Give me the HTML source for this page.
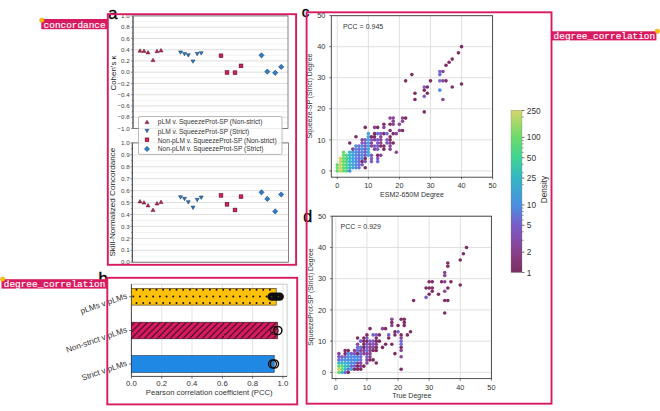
<!DOCTYPE html><html><head><meta charset="utf-8"><style>html,body{margin:0;padding:0;background:#fff;width:660px;height:411px;overflow:hidden}svg{display:block}text{font-family:"Liberation Sans",sans-serif}</style></head><body>
<svg width="660" height="411" viewBox="0 0 660 411">
<defs>
<linearGradient id="cmap" x1="0" y1="1" x2="0" y2="0"><stop offset="0" stop-color="#7a2e60"/><stop offset="0.125" stop-color="#8a3f8a"/><stop offset="0.29" stop-color="#7a5cc8"/><stop offset="0.417" stop-color="#4a90e0"/><stop offset="0.583" stop-color="#33b6c4"/><stop offset="0.708" stop-color="#3fd394"/><stop offset="0.833" stop-color="#6ddc6c"/><stop offset="1" stop-color="#d4d46b"/></linearGradient>
<pattern id="hatch" patternUnits="userSpaceOnUse" x="134.8" y="322.2" width="6.44" height="6.44"><rect width="6.44" height="6.44" fill="#d81b60"/><path d="M-1.5,1.5 l3,-3 M0,6.44 l6.44,-6.44 M4.94,7.94 l3,-3" stroke="#2a0a18" stroke-width="1.05"/></pattern>
<pattern id="dots" patternUnits="userSpaceOnUse" x="133" y="286.4" width="6.67" height="13.3"><rect width="6.67" height="13.3" fill="#ffc107"/><circle cx="3.3" cy="3.3" r="0.95" fill="#111"/><circle cx="0" cy="9.95" r="0.95" fill="#111"/><circle cx="6.67" cy="9.95" r="0.95" fill="#111"/></pattern>
</defs>
<line x1="133.0" y1="128.45" x2="288.0" y2="128.45" stroke="#d6d6d6" stroke-width="0.8"/>
<line x1="133.0" y1="122.82" x2="288.0" y2="122.82" stroke="#efefef" stroke-width="0.8"/>
<line x1="133.0" y1="117.20" x2="288.0" y2="117.20" stroke="#d6d6d6" stroke-width="0.8"/>
<line x1="133.0" y1="111.57" x2="288.0" y2="111.57" stroke="#efefef" stroke-width="0.8"/>
<line x1="133.0" y1="105.95" x2="288.0" y2="105.95" stroke="#d6d6d6" stroke-width="0.8"/>
<line x1="133.0" y1="100.32" x2="288.0" y2="100.32" stroke="#efefef" stroke-width="0.8"/>
<line x1="133.0" y1="94.70" x2="288.0" y2="94.70" stroke="#d6d6d6" stroke-width="0.8"/>
<line x1="133.0" y1="89.07" x2="288.0" y2="89.07" stroke="#efefef" stroke-width="0.8"/>
<line x1="133.0" y1="83.45" x2="288.0" y2="83.45" stroke="#d6d6d6" stroke-width="0.8"/>
<line x1="133.0" y1="77.82" x2="288.0" y2="77.82" stroke="#efefef" stroke-width="0.8"/>
<line x1="133.0" y1="72.20" x2="288.0" y2="72.20" stroke="#d6d6d6" stroke-width="0.8"/>
<line x1="133.0" y1="66.57" x2="288.0" y2="66.57" stroke="#efefef" stroke-width="0.8"/>
<line x1="133.0" y1="60.95" x2="288.0" y2="60.95" stroke="#d6d6d6" stroke-width="0.8"/>
<line x1="133.0" y1="55.32" x2="288.0" y2="55.32" stroke="#efefef" stroke-width="0.8"/>
<line x1="133.0" y1="49.70" x2="288.0" y2="49.70" stroke="#d6d6d6" stroke-width="0.8"/>
<line x1="133.0" y1="44.08" x2="288.0" y2="44.08" stroke="#efefef" stroke-width="0.8"/>
<line x1="133.0" y1="38.45" x2="288.0" y2="38.45" stroke="#d6d6d6" stroke-width="0.8"/>
<line x1="133.0" y1="32.82" x2="288.0" y2="32.82" stroke="#efefef" stroke-width="0.8"/>
<line x1="133.0" y1="27.20" x2="288.0" y2="27.20" stroke="#d6d6d6" stroke-width="0.8"/>
<line x1="133.0" y1="21.57" x2="288.0" y2="21.57" stroke="#efefef" stroke-width="0.8"/>
<line x1="133.0" y1="15.95" x2="288.0" y2="15.95" stroke="#d6d6d6" stroke-width="0.8"/>
<rect x="133.0" y="15.9" width="155.0" height="112.5" fill="none" stroke="#666" stroke-width="0.8"/>
<line x1="133.0" y1="15.9" x2="133.0" y2="128.4" stroke="#444" stroke-width="0.9"/>
<line x1="131.0" y1="128.45" x2="133.0" y2="128.45" stroke="#555" stroke-width="0.6"/>
<text x="129.7" y="130.65" font-size="6.2" fill="#444" text-anchor="end">−1.0</text>
<line x1="131.8" y1="122.82" x2="133.0" y2="122.82" stroke="#555" stroke-width="0.6"/>
<line x1="131.0" y1="117.20" x2="133.0" y2="117.20" stroke="#555" stroke-width="0.6"/>
<text x="129.7" y="119.40" font-size="6.2" fill="#444" text-anchor="end">−0.8</text>
<line x1="131.8" y1="111.57" x2="133.0" y2="111.57" stroke="#555" stroke-width="0.6"/>
<line x1="131.0" y1="105.95" x2="133.0" y2="105.95" stroke="#555" stroke-width="0.6"/>
<text x="129.7" y="108.15" font-size="6.2" fill="#444" text-anchor="end">−0.6</text>
<line x1="131.8" y1="100.32" x2="133.0" y2="100.32" stroke="#555" stroke-width="0.6"/>
<line x1="131.0" y1="94.70" x2="133.0" y2="94.70" stroke="#555" stroke-width="0.6"/>
<text x="129.7" y="96.90" font-size="6.2" fill="#444" text-anchor="end">−0.4</text>
<line x1="131.8" y1="89.07" x2="133.0" y2="89.07" stroke="#555" stroke-width="0.6"/>
<line x1="131.0" y1="83.45" x2="133.0" y2="83.45" stroke="#555" stroke-width="0.6"/>
<text x="129.7" y="85.65" font-size="6.2" fill="#444" text-anchor="end">−0.2</text>
<line x1="131.8" y1="77.82" x2="133.0" y2="77.82" stroke="#555" stroke-width="0.6"/>
<line x1="131.0" y1="72.20" x2="133.0" y2="72.20" stroke="#555" stroke-width="0.6"/>
<text x="129.7" y="74.40" font-size="6.2" fill="#444" text-anchor="end">0.0</text>
<line x1="131.8" y1="66.57" x2="133.0" y2="66.57" stroke="#555" stroke-width="0.6"/>
<line x1="131.0" y1="60.95" x2="133.0" y2="60.95" stroke="#555" stroke-width="0.6"/>
<text x="129.7" y="63.15" font-size="6.2" fill="#444" text-anchor="end">0.2</text>
<line x1="131.8" y1="55.32" x2="133.0" y2="55.32" stroke="#555" stroke-width="0.6"/>
<line x1="131.0" y1="49.70" x2="133.0" y2="49.70" stroke="#555" stroke-width="0.6"/>
<text x="129.7" y="51.90" font-size="6.2" fill="#444" text-anchor="end">0.4</text>
<line x1="131.8" y1="44.08" x2="133.0" y2="44.08" stroke="#555" stroke-width="0.6"/>
<line x1="131.0" y1="38.45" x2="133.0" y2="38.45" stroke="#555" stroke-width="0.6"/>
<text x="129.7" y="40.65" font-size="6.2" fill="#444" text-anchor="end">0.6</text>
<line x1="131.8" y1="32.82" x2="133.0" y2="32.82" stroke="#555" stroke-width="0.6"/>
<line x1="131.0" y1="27.20" x2="133.0" y2="27.20" stroke="#555" stroke-width="0.6"/>
<text x="129.7" y="29.40" font-size="6.2" fill="#444" text-anchor="end">0.8</text>
<line x1="131.8" y1="21.57" x2="133.0" y2="21.57" stroke="#555" stroke-width="0.6"/>
<line x1="131.0" y1="15.95" x2="133.0" y2="15.95" stroke="#555" stroke-width="0.6"/>
<text x="129.7" y="18.15" font-size="6.2" fill="#444" text-anchor="end">1.0</text>
<text transform="translate(116,73) rotate(-90)" font-size="7.9" fill="#222" text-anchor="middle">Cohen’s κ</text>
<line x1="132.3" y1="262.20" x2="288.4" y2="262.20" stroke="#d6d6d6" stroke-width="0.8"/>
<line x1="132.3" y1="256.24" x2="288.4" y2="256.24" stroke="#efefef" stroke-width="0.8"/>
<line x1="132.3" y1="250.27" x2="288.4" y2="250.27" stroke="#d6d6d6" stroke-width="0.8"/>
<line x1="132.3" y1="244.30" x2="288.4" y2="244.30" stroke="#efefef" stroke-width="0.8"/>
<line x1="132.3" y1="238.34" x2="288.4" y2="238.34" stroke="#d6d6d6" stroke-width="0.8"/>
<line x1="132.3" y1="232.38" x2="288.4" y2="232.38" stroke="#efefef" stroke-width="0.8"/>
<line x1="132.3" y1="226.41" x2="288.4" y2="226.41" stroke="#d6d6d6" stroke-width="0.8"/>
<line x1="132.3" y1="220.44" x2="288.4" y2="220.44" stroke="#efefef" stroke-width="0.8"/>
<line x1="132.3" y1="214.48" x2="288.4" y2="214.48" stroke="#d6d6d6" stroke-width="0.8"/>
<line x1="132.3" y1="208.51" x2="288.4" y2="208.51" stroke="#efefef" stroke-width="0.8"/>
<line x1="132.3" y1="202.55" x2="288.4" y2="202.55" stroke="#d6d6d6" stroke-width="0.8"/>
<line x1="132.3" y1="196.58" x2="288.4" y2="196.58" stroke="#efefef" stroke-width="0.8"/>
<line x1="132.3" y1="190.62" x2="288.4" y2="190.62" stroke="#d6d6d6" stroke-width="0.8"/>
<line x1="132.3" y1="184.66" x2="288.4" y2="184.66" stroke="#efefef" stroke-width="0.8"/>
<line x1="132.3" y1="178.69" x2="288.4" y2="178.69" stroke="#d6d6d6" stroke-width="0.8"/>
<line x1="132.3" y1="172.72" x2="288.4" y2="172.72" stroke="#efefef" stroke-width="0.8"/>
<line x1="132.3" y1="166.76" x2="288.4" y2="166.76" stroke="#d6d6d6" stroke-width="0.8"/>
<line x1="132.3" y1="160.79" x2="288.4" y2="160.79" stroke="#efefef" stroke-width="0.8"/>
<line x1="132.3" y1="154.83" x2="288.4" y2="154.83" stroke="#d6d6d6" stroke-width="0.8"/>
<line x1="132.3" y1="148.87" x2="288.4" y2="148.87" stroke="#efefef" stroke-width="0.8"/>
<line x1="132.3" y1="142.90" x2="288.4" y2="142.90" stroke="#d6d6d6" stroke-width="0.8"/>
<rect x="132.3" y="142.9" width="156.1" height="119.3" fill="none" stroke="#666" stroke-width="0.8"/>
<line x1="132.3" y1="142.9" x2="132.3" y2="262.2" stroke="#444" stroke-width="0.9"/>
<line x1="130.3" y1="262.20" x2="132.3" y2="262.20" stroke="#555" stroke-width="0.6"/>
<text x="129.7" y="264.40" font-size="6.2" fill="#444" text-anchor="end">0.0</text>
<line x1="131.1" y1="256.24" x2="132.3" y2="256.24" stroke="#555" stroke-width="0.6"/>
<line x1="130.3" y1="250.27" x2="132.3" y2="250.27" stroke="#555" stroke-width="0.6"/>
<text x="129.7" y="252.47" font-size="6.2" fill="#444" text-anchor="end">0.1</text>
<line x1="131.1" y1="244.30" x2="132.3" y2="244.30" stroke="#555" stroke-width="0.6"/>
<line x1="130.3" y1="238.34" x2="132.3" y2="238.34" stroke="#555" stroke-width="0.6"/>
<text x="129.7" y="240.54" font-size="6.2" fill="#444" text-anchor="end">0.2</text>
<line x1="131.1" y1="232.38" x2="132.3" y2="232.38" stroke="#555" stroke-width="0.6"/>
<line x1="130.3" y1="226.41" x2="132.3" y2="226.41" stroke="#555" stroke-width="0.6"/>
<text x="129.7" y="228.61" font-size="6.2" fill="#444" text-anchor="end">0.3</text>
<line x1="131.1" y1="220.44" x2="132.3" y2="220.44" stroke="#555" stroke-width="0.6"/>
<line x1="130.3" y1="214.48" x2="132.3" y2="214.48" stroke="#555" stroke-width="0.6"/>
<text x="129.7" y="216.68" font-size="6.2" fill="#444" text-anchor="end">0.4</text>
<line x1="131.1" y1="208.51" x2="132.3" y2="208.51" stroke="#555" stroke-width="0.6"/>
<line x1="130.3" y1="202.55" x2="132.3" y2="202.55" stroke="#555" stroke-width="0.6"/>
<text x="129.7" y="204.75" font-size="6.2" fill="#444" text-anchor="end">0.5</text>
<line x1="131.1" y1="196.58" x2="132.3" y2="196.58" stroke="#555" stroke-width="0.6"/>
<line x1="130.3" y1="190.62" x2="132.3" y2="190.62" stroke="#555" stroke-width="0.6"/>
<text x="129.7" y="192.82" font-size="6.2" fill="#444" text-anchor="end">0.6</text>
<line x1="131.1" y1="184.66" x2="132.3" y2="184.66" stroke="#555" stroke-width="0.6"/>
<line x1="130.3" y1="178.69" x2="132.3" y2="178.69" stroke="#555" stroke-width="0.6"/>
<text x="129.7" y="180.89" font-size="6.2" fill="#444" text-anchor="end">0.7</text>
<line x1="131.1" y1="172.72" x2="132.3" y2="172.72" stroke="#555" stroke-width="0.6"/>
<line x1="130.3" y1="166.76" x2="132.3" y2="166.76" stroke="#555" stroke-width="0.6"/>
<text x="129.7" y="168.96" font-size="6.2" fill="#444" text-anchor="end">0.8</text>
<line x1="131.1" y1="160.79" x2="132.3" y2="160.79" stroke="#555" stroke-width="0.6"/>
<line x1="130.3" y1="154.83" x2="132.3" y2="154.83" stroke="#555" stroke-width="0.6"/>
<text x="129.7" y="157.03" font-size="6.2" fill="#444" text-anchor="end">0.9</text>
<line x1="131.1" y1="148.87" x2="132.3" y2="148.87" stroke="#555" stroke-width="0.6"/>
<line x1="130.3" y1="142.90" x2="132.3" y2="142.90" stroke="#555" stroke-width="0.6"/>
<text x="129.7" y="145.10" font-size="6.2" fill="#444" text-anchor="end">1.0</text>
<text transform="translate(115.2,202.2) rotate(-90)" font-size="8.1" fill="#222" text-anchor="middle">Skill-Normalized Concordance</text>
<path d="M140.00,48.80 L142.00,52.20 L138.00,52.20 Z" fill="#d21f55" stroke="#3a1020" stroke-width="0.5"/>
<path d="M144.00,49.00 L146.00,52.40 L142.00,52.40 Z" fill="#d21f55" stroke="#3a1020" stroke-width="0.5"/>
<path d="M148.00,50.50 L150.00,53.90 L146.00,53.90 Z" fill="#d21f55" stroke="#3a1020" stroke-width="0.5"/>
<path d="M153.00,58.20 L155.00,61.60 L151.00,61.60 Z" fill="#d21f55" stroke="#3a1020" stroke-width="0.5"/>
<path d="M157.00,49.30 L159.00,52.70 L155.00,52.70 Z" fill="#d21f55" stroke="#3a1020" stroke-width="0.5"/>
<path d="M161.00,48.50 L163.00,51.90 L159.00,51.90 Z" fill="#d21f55" stroke="#3a1020" stroke-width="0.5"/>
<path d="M180.50,54.30 L182.50,50.90 L178.50,50.90 Z" fill="#2a7fd4" stroke="#102a40" stroke-width="0.5"/>
<path d="M184.50,55.80 L186.50,52.40 L182.50,52.40 Z" fill="#2a7fd4" stroke="#102a40" stroke-width="0.5"/>
<path d="M188.30,57.10 L190.30,53.70 L186.30,53.70 Z" fill="#2a7fd4" stroke="#102a40" stroke-width="0.5"/>
<path d="M193.00,63.30 L195.00,59.90 L191.00,59.90 Z" fill="#2a7fd4" stroke="#102a40" stroke-width="0.5"/>
<path d="M197.20,55.80 L199.20,52.40 L195.20,52.40 Z" fill="#2a7fd4" stroke="#102a40" stroke-width="0.5"/>
<path d="M201.20,55.10 L203.20,51.70 L199.20,51.70 Z" fill="#2a7fd4" stroke="#102a40" stroke-width="0.5"/>
<rect x="219.10" y="53.90" width="3.80" height="3.80" fill="#d21f55" stroke="#3a1020" stroke-width="0.5"/>
<rect x="225.10" y="70.60" width="3.80" height="3.80" fill="#d21f55" stroke="#3a1020" stroke-width="0.5"/>
<rect x="233.10" y="70.80" width="3.80" height="3.80" fill="#d21f55" stroke="#3a1020" stroke-width="0.5"/>
<rect x="239.10" y="64.00" width="3.80" height="3.80" fill="#d21f55" stroke="#3a1020" stroke-width="0.5"/>
<path d="M261.50,52.70 L264.10,55.30 L261.50,57.90 L258.90,55.30 Z" fill="#2a7fd4" stroke="#102a40" stroke-width="0.5"/>
<path d="M267.30,69.00 L269.90,71.60 L267.30,74.20 L264.70,71.60 Z" fill="#2a7fd4" stroke="#102a40" stroke-width="0.5"/>
<path d="M275.20,70.20 L277.80,72.80 L275.20,75.40 L272.60,72.80 Z" fill="#2a7fd4" stroke="#102a40" stroke-width="0.5"/>
<path d="M281.20,64.30 L283.80,66.90 L281.20,69.50 L278.60,66.90 Z" fill="#2a7fd4" stroke="#102a40" stroke-width="0.5"/>
<path d="M140.00,199.50 L142.00,202.90 L138.00,202.90 Z" fill="#d21f55" stroke="#3a1020" stroke-width="0.5"/>
<path d="M144.00,200.70 L146.00,204.10 L142.00,204.10 Z" fill="#d21f55" stroke="#3a1020" stroke-width="0.5"/>
<path d="M148.00,203.50 L150.00,206.90 L146.00,206.90 Z" fill="#d21f55" stroke="#3a1020" stroke-width="0.5"/>
<path d="M153.00,208.10 L155.00,211.50 L151.00,211.50 Z" fill="#d21f55" stroke="#3a1020" stroke-width="0.5"/>
<path d="M157.00,201.60 L159.00,205.00 L155.00,205.00 Z" fill="#d21f55" stroke="#3a1020" stroke-width="0.5"/>
<path d="M161.00,200.10 L163.00,203.50 L159.00,203.50 Z" fill="#d21f55" stroke="#3a1020" stroke-width="0.5"/>
<path d="M180.50,199.10 L182.50,195.70 L178.50,195.70 Z" fill="#2a7fd4" stroke="#102a40" stroke-width="0.5"/>
<path d="M184.50,200.70 L186.50,197.30 L182.50,197.30 Z" fill="#2a7fd4" stroke="#102a40" stroke-width="0.5"/>
<path d="M188.30,204.10 L190.30,200.70 L186.30,200.70 Z" fill="#2a7fd4" stroke="#102a40" stroke-width="0.5"/>
<path d="M193.00,209.50 L195.00,206.10 L191.00,206.10 Z" fill="#2a7fd4" stroke="#102a40" stroke-width="0.5"/>
<path d="M197.20,201.70 L199.20,198.30 L195.20,198.30 Z" fill="#2a7fd4" stroke="#102a40" stroke-width="0.5"/>
<path d="M201.20,199.40 L203.20,196.00 L199.20,196.00 Z" fill="#2a7fd4" stroke="#102a40" stroke-width="0.5"/>
<rect x="219.10" y="193.50" width="3.80" height="3.80" fill="#d21f55" stroke="#3a1020" stroke-width="0.5"/>
<rect x="225.10" y="202.40" width="3.80" height="3.80" fill="#d21f55" stroke="#3a1020" stroke-width="0.5"/>
<rect x="233.10" y="208.10" width="3.80" height="3.80" fill="#d21f55" stroke="#3a1020" stroke-width="0.5"/>
<rect x="239.10" y="194.80" width="3.80" height="3.80" fill="#d21f55" stroke="#3a1020" stroke-width="0.5"/>
<path d="M261.50,189.70 L264.10,192.30 L261.50,194.90 L258.90,192.30 Z" fill="#2a7fd4" stroke="#102a40" stroke-width="0.5"/>
<path d="M267.30,196.30 L269.90,198.90 L267.30,201.50 L264.70,198.90 Z" fill="#2a7fd4" stroke="#102a40" stroke-width="0.5"/>
<path d="M275.20,208.80 L277.80,211.40 L275.20,214.00 L272.60,211.40 Z" fill="#2a7fd4" stroke="#102a40" stroke-width="0.5"/>
<path d="M281.20,191.90 L283.80,194.50 L281.20,197.10 L278.60,194.50 Z" fill="#2a7fd4" stroke="#102a40" stroke-width="0.5"/>
<rect x="138.5" y="116.5" width="143.5" height="37.9" rx="1.5" fill="#fff" fill-opacity="0.85" stroke="#a8a8a8" stroke-width="0.8"/>
<path d="M147.00,120.20 L149.00,123.60 L145.00,123.60 Z" fill="#d21f55" stroke="#3a1020" stroke-width="0.5"/>
<text x="157.8" y="124.40" font-size="6.6" fill="#333">pLM v. SqueezeProt-SP (Non-strict)</text>
<path d="M147.00,132.70 L149.00,129.30 L145.00,129.30 Z" fill="#2a7fd4" stroke="#102a40" stroke-width="0.5"/>
<text x="157.8" y="133.60" font-size="6.6" fill="#333">pLM v. SqueezeProt-SP (Strict)</text>
<rect x="145.10" y="137.90" width="3.80" height="3.80" fill="#d21f55" stroke="#3a1020" stroke-width="0.5"/>
<text x="157.8" y="142.60" font-size="6.6" fill="#333">Non-pLM v. SqueezeProt-SP (Non-strict)</text>
<path d="M147.00,146.30 L149.60,148.90 L147.00,151.50 L144.40,148.90 Z" fill="#2a7fd4" stroke="#102a40" stroke-width="0.5"/>
<text x="157.8" y="151.10" font-size="6.6" fill="#333">Non-pLM v. SqueezeProt-SP (Strict)</text>
<line x1="131.40" y1="284.2" x2="131.40" y2="376.4" stroke="#dcdcdc" stroke-width="0.8"/>
<line x1="161.70" y1="284.2" x2="161.70" y2="376.4" stroke="#dcdcdc" stroke-width="0.8"/>
<line x1="192.00" y1="284.2" x2="192.00" y2="376.4" stroke="#dcdcdc" stroke-width="0.8"/>
<line x1="222.30" y1="284.2" x2="222.30" y2="376.4" stroke="#dcdcdc" stroke-width="0.8"/>
<line x1="252.60" y1="284.2" x2="252.60" y2="376.4" stroke="#dcdcdc" stroke-width="0.8"/>
<line x1="282.90" y1="284.2" x2="282.90" y2="376.4" stroke="#dcdcdc" stroke-width="0.8"/>
<line x1="131.4" y1="284.2" x2="287.1" y2="284.2" stroke="#bbb" stroke-width="0.8"/>
<line x1="287.1" y1="284.2" x2="287.1" y2="376.4" stroke="#bbb" stroke-width="0.8"/>
<line x1="131.4" y1="284.2" x2="131.4" y2="376.4" stroke="#333" stroke-width="0.9"/>
<line x1="131.4" y1="376.4" x2="287.1" y2="376.4" stroke="#333" stroke-width="0.9"/>
<rect x="131.4" y="288.3" width="144.8" height="16.8" fill="#ffc107" stroke="#3a3020" stroke-width="0.6"/>
<path d="M136.50,289.7h0M136.50,303.0h0M143.17,289.7h0M143.17,303.0h0M149.84,289.7h0M149.84,303.0h0M156.51,289.7h0M156.51,303.0h0M163.18,289.7h0M163.18,303.0h0M169.85,289.7h0M169.85,303.0h0M176.52,289.7h0M176.52,303.0h0M183.19,289.7h0M183.19,303.0h0M189.86,289.7h0M189.86,303.0h0M196.53,289.7h0M196.53,303.0h0M203.20,289.7h0M203.20,303.0h0M209.87,289.7h0M209.87,303.0h0M216.54,289.7h0M216.54,303.0h0M223.21,289.7h0M223.21,303.0h0M229.88,289.7h0M229.88,303.0h0M236.55,289.7h0M236.55,303.0h0M243.22,289.7h0M243.22,303.0h0M249.89,289.7h0M249.89,303.0h0M256.56,289.7h0M256.56,303.0h0M263.23,289.7h0M263.23,303.0h0M269.90,289.7h0M269.90,303.0h0M133.20,296.4h0M139.87,296.4h0M146.54,296.4h0M153.21,296.4h0M159.88,296.4h0M166.55,296.4h0M173.22,296.4h0M179.89,296.4h0M186.56,296.4h0M193.23,296.4h0M199.90,296.4h0M206.57,296.4h0M213.24,296.4h0M219.91,296.4h0M226.58,296.4h0M233.25,296.4h0M239.92,296.4h0M246.59,296.4h0M253.26,296.4h0M259.93,296.4h0M266.60,296.4h0M273.27,296.4h0" stroke="#111" stroke-width="2.0" stroke-linecap="round"/>
<rect x="131.4" y="322.2" width="146.1" height="16.6" fill="url(#hatch)" stroke="#3a1020" stroke-width="0.6"/>
<rect x="131.4" y="355.6" width="142.8" height="16.8" fill="#1f88e5" stroke="#1a3050" stroke-width="0.6"/>
<rect x="267.4" y="292.5" width="16.5" height="8.3" rx="4.15" fill="#0d0d0d"/>
<circle cx="271.5" cy="296.6" r="0.9" fill="#4a4030"/><circle cx="278.4" cy="296.6" r="0.9" fill="#4a4030"/>
<circle cx="274.4" cy="330.5" r="4.0" fill="none" stroke="#2a1018" stroke-width="1.0"/>
<circle cx="277.8" cy="330.5" r="4.1" fill="none" stroke="#111" stroke-width="1.5"/>
<circle cx="272.4" cy="364.0" r="4.0" fill="none" stroke="#111" stroke-width="1.3"/>
<circle cx="274.4" cy="364.0" r="4.1" fill="none" stroke="#111" stroke-width="1.5"/>
<line x1="131.40" y1="376.4" x2="131.40" y2="378.6" stroke="#333" stroke-width="0.7"/>
<text x="131.40" y="385.5" font-size="7.8" fill="#333" text-anchor="middle">0.0</text>
<line x1="161.70" y1="376.4" x2="161.70" y2="378.6" stroke="#333" stroke-width="0.7"/>
<text x="161.70" y="385.5" font-size="7.8" fill="#333" text-anchor="middle">0.2</text>
<line x1="192.00" y1="376.4" x2="192.00" y2="378.6" stroke="#333" stroke-width="0.7"/>
<text x="192.00" y="385.5" font-size="7.8" fill="#333" text-anchor="middle">0.4</text>
<line x1="222.30" y1="376.4" x2="222.30" y2="378.6" stroke="#333" stroke-width="0.7"/>
<text x="222.30" y="385.5" font-size="7.8" fill="#333" text-anchor="middle">0.6</text>
<line x1="252.60" y1="376.4" x2="252.60" y2="378.6" stroke="#333" stroke-width="0.7"/>
<text x="252.60" y="385.5" font-size="7.8" fill="#333" text-anchor="middle">0.8</text>
<line x1="282.90" y1="376.4" x2="282.90" y2="378.6" stroke="#333" stroke-width="0.7"/>
<text x="282.90" y="385.5" font-size="7.8" fill="#333" text-anchor="middle">1.0</text>
<line x1="129.2" y1="296.7" x2="131.4" y2="296.7" stroke="#333" stroke-width="0.7"/>
<line x1="129.2" y1="330.5" x2="131.4" y2="330.5" stroke="#333" stroke-width="0.7"/>
<line x1="129.2" y1="364.0" x2="131.4" y2="364.0" stroke="#333" stroke-width="0.7"/>
<text x="209.2" y="395.0" font-size="7.7" fill="#333" text-anchor="middle">Pearson correlation coefficient (PCC)</text>
<text transform="translate(126.8,296.1) rotate(-19)" font-size="8.2" fill="#333" text-anchor="end" dominant-baseline="middle">pLMs v pLMs</text>
<text transform="translate(126.8,329.9) rotate(-19)" font-size="8.2" fill="#333" text-anchor="end" dominant-baseline="middle">Non-strict v pLMs</text>
<text transform="translate(126.8,363.4) rotate(-19)" font-size="8.2" fill="#333" text-anchor="end" dominant-baseline="middle">Strict v pLMs</text>
<line x1="337.30" y1="15.7" x2="337.30" y2="177.2" stroke="#d8d8d8" stroke-width="0.8"/>
<line x1="331.3" y1="170.90" x2="492.6" y2="170.90" stroke="#d8d8d8" stroke-width="0.8"/>
<line x1="368.36" y1="15.7" x2="368.36" y2="177.2" stroke="#d8d8d8" stroke-width="0.8"/>
<line x1="331.3" y1="139.84" x2="492.6" y2="139.84" stroke="#d8d8d8" stroke-width="0.8"/>
<line x1="399.42" y1="15.7" x2="399.42" y2="177.2" stroke="#d8d8d8" stroke-width="0.8"/>
<line x1="331.3" y1="108.78" x2="492.6" y2="108.78" stroke="#d8d8d8" stroke-width="0.8"/>
<line x1="430.48" y1="15.7" x2="430.48" y2="177.2" stroke="#d8d8d8" stroke-width="0.8"/>
<line x1="331.3" y1="77.72" x2="492.6" y2="77.72" stroke="#d8d8d8" stroke-width="0.8"/>
<line x1="461.54" y1="15.7" x2="461.54" y2="177.2" stroke="#d8d8d8" stroke-width="0.8"/>
<line x1="331.3" y1="46.66" x2="492.6" y2="46.66" stroke="#d8d8d8" stroke-width="0.8"/>
<line x1="492.60" y1="15.7" x2="492.60" y2="177.2" stroke="#d8d8d8" stroke-width="0.8"/>
<line x1="331.3" y1="15.60" x2="492.6" y2="15.60" stroke="#d8d8d8" stroke-width="0.8"/>
<circle cx="337.30" cy="170.90" r="1.8" fill="#6bdb6b"/>
<circle cx="337.30" cy="167.79" r="1.8" fill="#6bdb6b"/>
<circle cx="337.30" cy="164.69" r="1.8" fill="#6bdb6b"/>
<circle cx="340.41" cy="170.90" r="1.8" fill="#cfd367"/>
<circle cx="340.41" cy="167.79" r="1.8" fill="#cfd367"/>
<circle cx="340.41" cy="164.69" r="1.8" fill="#cfd367"/>
<circle cx="340.41" cy="161.58" r="1.8" fill="#cfd367"/>
<circle cx="340.41" cy="158.48" r="1.8" fill="#cfd367"/>
<circle cx="343.51" cy="170.90" r="1.8" fill="#6bdb6b"/>
<circle cx="343.51" cy="167.79" r="1.8" fill="#6bdb6b"/>
<circle cx="343.51" cy="164.69" r="1.8" fill="#6bdb6b"/>
<circle cx="343.51" cy="161.58" r="1.8" fill="#6bdb6b"/>
<circle cx="343.51" cy="158.48" r="1.8" fill="#6bdb6b"/>
<circle cx="343.51" cy="155.37" r="1.8" fill="#6bdb6b"/>
<circle cx="343.51" cy="152.26" r="1.8" fill="#6bdb6b"/>
<circle cx="346.62" cy="170.90" r="1.8" fill="#4ad48a"/>
<circle cx="346.62" cy="167.79" r="1.8" fill="#4ad48a"/>
<circle cx="346.62" cy="164.69" r="1.8" fill="#4ad48a"/>
<circle cx="346.62" cy="161.58" r="1.8" fill="#4ad48a"/>
<circle cx="346.62" cy="158.48" r="1.8" fill="#4ad48a"/>
<circle cx="346.62" cy="155.37" r="1.8" fill="#4ad48a"/>
<circle cx="349.72" cy="170.90" r="1.8" fill="#4d8de3"/>
<circle cx="349.72" cy="167.79" r="1.8" fill="#37b8c6"/>
<circle cx="349.72" cy="164.69" r="1.8" fill="#37b8c6"/>
<circle cx="349.72" cy="161.58" r="1.8" fill="#37b8c6"/>
<circle cx="349.72" cy="158.48" r="1.8" fill="#37b8c6"/>
<circle cx="349.72" cy="155.37" r="1.8" fill="#37b8c6"/>
<circle cx="349.72" cy="152.26" r="1.8" fill="#37b8c6"/>
<circle cx="349.72" cy="142.95" r="1.8" fill="#7e2d63"/>
<circle cx="352.83" cy="167.79" r="1.8" fill="#43a3dd"/>
<circle cx="352.83" cy="164.69" r="1.8" fill="#43a3dd"/>
<circle cx="352.83" cy="161.58" r="1.8" fill="#43a3dd"/>
<circle cx="352.83" cy="158.48" r="1.8" fill="#43a3dd"/>
<circle cx="352.83" cy="155.37" r="1.8" fill="#43a3dd"/>
<circle cx="352.83" cy="152.26" r="1.8" fill="#43a3dd"/>
<circle cx="352.83" cy="149.16" r="1.8" fill="#8a4597"/>
<circle cx="355.94" cy="167.79" r="1.8" fill="#4d8de3"/>
<circle cx="355.94" cy="164.69" r="1.8" fill="#4d8de3"/>
<circle cx="355.94" cy="161.58" r="1.8" fill="#4d8de3"/>
<circle cx="355.94" cy="158.48" r="1.8" fill="#4d8de3"/>
<circle cx="355.94" cy="155.37" r="1.8" fill="#4d8de3"/>
<circle cx="355.94" cy="152.26" r="1.8" fill="#4d8de3"/>
<circle cx="355.94" cy="149.16" r="1.8" fill="#4d8de3"/>
<circle cx="355.94" cy="146.05" r="1.8" fill="#4d8de3"/>
<circle cx="355.94" cy="136.73" r="1.8" fill="#7e2d63"/>
<circle cx="359.04" cy="167.79" r="1.8" fill="#6d6cd8"/>
<circle cx="359.04" cy="164.69" r="1.8" fill="#6d6cd8"/>
<circle cx="359.04" cy="161.58" r="1.8" fill="#6d6cd8"/>
<circle cx="359.04" cy="158.48" r="1.8" fill="#6d6cd8"/>
<circle cx="359.04" cy="155.37" r="1.8" fill="#6d6cd8"/>
<circle cx="359.04" cy="152.26" r="1.8" fill="#6d6cd8"/>
<circle cx="359.04" cy="149.16" r="1.8" fill="#6d6cd8"/>
<circle cx="359.04" cy="146.05" r="1.8" fill="#6d6cd8"/>
<circle cx="362.15" cy="164.69" r="1.8" fill="#7e5cc7"/>
<circle cx="362.15" cy="161.58" r="1.8" fill="#7e2d63"/>
<circle cx="362.15" cy="158.48" r="1.8" fill="#4d8de3"/>
<circle cx="362.15" cy="155.37" r="1.8" fill="#4d8de3"/>
<circle cx="362.15" cy="152.26" r="1.8" fill="#4d8de3"/>
<circle cx="362.15" cy="149.16" r="1.8" fill="#4d8de3"/>
<circle cx="362.15" cy="146.05" r="1.8" fill="#4d8de3"/>
<circle cx="362.15" cy="142.95" r="1.8" fill="#7e5cc7"/>
<circle cx="362.15" cy="139.84" r="1.8" fill="#8a4597"/>
<circle cx="365.25" cy="167.79" r="1.8" fill="#7e2d63"/>
<circle cx="365.25" cy="161.58" r="1.8" fill="#7e5cc7"/>
<circle cx="365.25" cy="158.48" r="1.8" fill="#7e2d63"/>
<circle cx="365.25" cy="155.37" r="1.8" fill="#7e5cc7"/>
<circle cx="365.25" cy="152.26" r="1.8" fill="#7e5cc7"/>
<circle cx="365.25" cy="149.16" r="1.8" fill="#7e5cc7"/>
<circle cx="365.25" cy="146.05" r="1.8" fill="#7e5cc7"/>
<circle cx="365.25" cy="142.95" r="1.8" fill="#7e5cc7"/>
<circle cx="365.25" cy="139.84" r="1.8" fill="#7e5cc7"/>
<circle cx="365.25" cy="127.42" r="1.8" fill="#7e2d63"/>
<circle cx="368.36" cy="155.37" r="1.8" fill="#43a3dd"/>
<circle cx="368.36" cy="152.26" r="1.8" fill="#43a3dd"/>
<circle cx="368.36" cy="149.16" r="1.8" fill="#43a3dd"/>
<circle cx="368.36" cy="146.05" r="1.8" fill="#43a3dd"/>
<circle cx="368.36" cy="142.95" r="1.8" fill="#43a3dd"/>
<circle cx="368.36" cy="139.84" r="1.8" fill="#43a3dd"/>
<circle cx="368.36" cy="136.73" r="1.8" fill="#43a3dd"/>
<circle cx="368.36" cy="133.63" r="1.8" fill="#43a3dd"/>
<circle cx="371.47" cy="161.58" r="1.8" fill="#7e5cc7"/>
<circle cx="371.47" cy="158.48" r="1.8" fill="#7e5cc7"/>
<circle cx="371.47" cy="155.37" r="1.8" fill="#7e5cc7"/>
<circle cx="371.47" cy="146.05" r="1.8" fill="#8a4597"/>
<circle cx="371.47" cy="142.95" r="1.8" fill="#8a4597"/>
<circle cx="371.47" cy="139.84" r="1.8" fill="#7e5cc7"/>
<circle cx="371.47" cy="136.73" r="1.8" fill="#7e2d63"/>
<circle cx="374.57" cy="149.16" r="1.8" fill="#8a4597"/>
<circle cx="374.57" cy="146.05" r="1.8" fill="#7e5cc7"/>
<circle cx="374.57" cy="139.84" r="1.8" fill="#8a4597"/>
<circle cx="374.57" cy="136.73" r="1.8" fill="#7e2d63"/>
<circle cx="374.57" cy="133.63" r="1.8" fill="#7e2d63"/>
<circle cx="374.57" cy="127.42" r="1.8" fill="#8a4597"/>
<circle cx="377.68" cy="161.58" r="1.8" fill="#6d6cd8"/>
<circle cx="377.68" cy="158.48" r="1.8" fill="#7e5cc7"/>
<circle cx="377.68" cy="155.37" r="1.8" fill="#7e2d63"/>
<circle cx="377.68" cy="149.16" r="1.8" fill="#7e5cc7"/>
<circle cx="377.68" cy="146.05" r="1.8" fill="#7e5cc7"/>
<circle cx="377.68" cy="142.95" r="1.8" fill="#7e5cc7"/>
<circle cx="377.68" cy="139.84" r="1.8" fill="#7e5cc7"/>
<circle cx="377.68" cy="133.63" r="1.8" fill="#6d6cd8"/>
<circle cx="377.68" cy="127.42" r="1.8" fill="#7e2d63"/>
<circle cx="380.78" cy="155.37" r="1.8" fill="#8a4597"/>
<circle cx="380.78" cy="146.05" r="1.8" fill="#7e2d63"/>
<circle cx="380.78" cy="142.95" r="1.8" fill="#8a4597"/>
<circle cx="380.78" cy="139.84" r="1.8" fill="#8a4597"/>
<circle cx="380.78" cy="136.73" r="1.8" fill="#8a4597"/>
<circle cx="380.78" cy="133.63" r="1.8" fill="#7e5cc7"/>
<circle cx="383.89" cy="149.16" r="1.8" fill="#7e2d63"/>
<circle cx="383.89" cy="146.05" r="1.8" fill="#7e2d63"/>
<circle cx="383.89" cy="133.63" r="1.8" fill="#7e2d63"/>
<circle cx="383.89" cy="124.31" r="1.8" fill="#7e2d63"/>
<circle cx="383.89" cy="127.42" r="1.8" fill="#8a4597"/>
<circle cx="387.00" cy="142.95" r="1.8" fill="#7e5cc7"/>
<circle cx="387.00" cy="139.84" r="1.8" fill="#7e5cc7"/>
<circle cx="387.00" cy="133.63" r="1.8" fill="#6d6cd8"/>
<circle cx="390.10" cy="149.16" r="1.8" fill="#8a4597"/>
<circle cx="390.10" cy="146.05" r="1.8" fill="#8a4597"/>
<circle cx="390.10" cy="142.95" r="1.8" fill="#8a4597"/>
<circle cx="390.10" cy="118.10" r="1.8" fill="#8a4597"/>
<circle cx="390.10" cy="139.84" r="1.8" fill="#7e2d63"/>
<circle cx="390.10" cy="136.73" r="1.8" fill="#7e2d63"/>
<circle cx="390.10" cy="130.52" r="1.8" fill="#7e2d63"/>
<circle cx="390.10" cy="124.31" r="1.8" fill="#7e2d63"/>
<circle cx="393.21" cy="142.95" r="1.8" fill="#7e2d63"/>
<circle cx="393.21" cy="133.63" r="1.8" fill="#7e2d63"/>
<circle cx="393.21" cy="124.31" r="1.8" fill="#8a4597"/>
<circle cx="393.21" cy="121.20" r="1.8" fill="#8a4597"/>
<circle cx="393.21" cy="118.10" r="1.8" fill="#8a4597"/>
<circle cx="396.31" cy="152.26" r="1.8" fill="#8a4597"/>
<circle cx="396.31" cy="133.63" r="1.8" fill="#8a4597"/>
<circle cx="399.42" cy="130.52" r="1.8" fill="#8a4597"/>
<circle cx="399.42" cy="124.31" r="1.8" fill="#8a4597"/>
<circle cx="402.53" cy="130.52" r="1.8" fill="#7e2d63"/>
<circle cx="402.53" cy="121.20" r="1.8" fill="#8a4597"/>
<circle cx="402.53" cy="118.10" r="1.8" fill="#8a4597"/>
<circle cx="405.63" cy="118.10" r="1.8" fill="#7e2d63"/>
<circle cx="405.63" cy="80.83" r="1.8" fill="#7e2d63"/>
<circle cx="411.84" cy="74.61" r="1.8" fill="#7e2d63"/>
<circle cx="414.95" cy="99.46" r="1.8" fill="#7e2d63"/>
<circle cx="414.95" cy="93.25" r="1.8" fill="#7e2d63"/>
<circle cx="424.27" cy="111.89" r="1.8" fill="#7e2d63"/>
<circle cx="424.27" cy="90.14" r="1.8" fill="#7e2d63"/>
<circle cx="424.27" cy="96.36" r="1.8" fill="#7e5cc7"/>
<circle cx="424.27" cy="87.04" r="1.8" fill="#7e5cc7"/>
<circle cx="427.37" cy="93.25" r="1.8" fill="#7e2d63"/>
<circle cx="427.37" cy="87.04" r="1.8" fill="#7e2d63"/>
<circle cx="430.48" cy="80.83" r="1.8" fill="#7e2d63"/>
<circle cx="439.80" cy="90.14" r="1.8" fill="#4d8de3"/>
<circle cx="439.80" cy="80.83" r="1.8" fill="#6d6cd8"/>
<circle cx="439.80" cy="74.61" r="1.8" fill="#6d6cd8"/>
<circle cx="439.80" cy="71.51" r="1.8" fill="#6d6cd8"/>
<circle cx="442.90" cy="99.46" r="1.8" fill="#8a4597"/>
<circle cx="442.90" cy="80.83" r="1.8" fill="#8a4597"/>
<circle cx="442.90" cy="71.51" r="1.8" fill="#8a4597"/>
<circle cx="446.01" cy="80.83" r="1.8" fill="#7e2d63"/>
<circle cx="446.01" cy="65.30" r="1.8" fill="#7e2d63"/>
<circle cx="449.12" cy="62.19" r="1.8" fill="#7e2d63"/>
<circle cx="452.22" cy="87.04" r="1.8" fill="#7e2d63"/>
<circle cx="452.22" cy="59.08" r="1.8" fill="#7e2d63"/>
<circle cx="458.43" cy="52.87" r="1.8" fill="#7e2d63"/>
<circle cx="461.54" cy="83.93" r="1.8" fill="#7e2d63"/>
<circle cx="461.54" cy="46.66" r="1.8" fill="#7e2d63"/>
<rect x="331.3" y="15.7" width="161.3" height="161.5" fill="none" stroke="#3c3c3c" stroke-width="0.9"/>
<line x1="337.30" y1="177.2" x2="337.30" y2="179.2" stroke="#333" stroke-width="0.7"/>
<text x="337.30" y="188.4" font-size="7.3" fill="#333" text-anchor="middle">0</text>
<line x1="329.3" y1="170.90" x2="331.3" y2="170.90" stroke="#333" stroke-width="0.7"/>
<text x="325.4" y="173.60" font-size="7.4" fill="#333" text-anchor="end">0</text>
<line x1="368.36" y1="177.2" x2="368.36" y2="179.2" stroke="#333" stroke-width="0.7"/>
<text x="368.36" y="188.4" font-size="7.3" fill="#333" text-anchor="middle">10</text>
<line x1="329.3" y1="139.84" x2="331.3" y2="139.84" stroke="#333" stroke-width="0.7"/>
<text x="325.4" y="142.54" font-size="7.4" fill="#333" text-anchor="end">10</text>
<line x1="399.42" y1="177.2" x2="399.42" y2="179.2" stroke="#333" stroke-width="0.7"/>
<text x="399.42" y="188.4" font-size="7.3" fill="#333" text-anchor="middle">20</text>
<line x1="329.3" y1="108.78" x2="331.3" y2="108.78" stroke="#333" stroke-width="0.7"/>
<text x="325.4" y="111.48" font-size="7.4" fill="#333" text-anchor="end">20</text>
<line x1="430.48" y1="177.2" x2="430.48" y2="179.2" stroke="#333" stroke-width="0.7"/>
<text x="430.48" y="188.4" font-size="7.3" fill="#333" text-anchor="middle">30</text>
<line x1="329.3" y1="77.72" x2="331.3" y2="77.72" stroke="#333" stroke-width="0.7"/>
<text x="325.4" y="80.42" font-size="7.4" fill="#333" text-anchor="end">30</text>
<line x1="461.54" y1="177.2" x2="461.54" y2="179.2" stroke="#333" stroke-width="0.7"/>
<text x="461.54" y="188.4" font-size="7.3" fill="#333" text-anchor="middle">40</text>
<line x1="329.3" y1="46.66" x2="331.3" y2="46.66" stroke="#333" stroke-width="0.7"/>
<text x="325.4" y="49.36" font-size="7.4" fill="#333" text-anchor="end">40</text>
<line x1="492.60" y1="177.2" x2="492.60" y2="179.2" stroke="#333" stroke-width="0.7"/>
<text x="492.60" y="188.4" font-size="7.3" fill="#333" text-anchor="middle">50</text>
<line x1="329.3" y1="15.60" x2="331.3" y2="15.60" stroke="#333" stroke-width="0.7"/>
<text x="325.4" y="18.30" font-size="7.4" fill="#333" text-anchor="end">50</text>
<text x="412.0" y="197.0" font-size="7.0" fill="#333" text-anchor="middle">ESM2-650M Degree</text>
<text transform="translate(311.7,96.1) rotate(-90)" font-size="6.85" fill="#333" text-anchor="middle">Squeeze-SP (Strict) Degree</text>
<text x="342.9" y="28.8" font-size="7" fill="#333">PCC = 0.945</text>
<line x1="335.80" y1="216.2" x2="335.80" y2="378.6" stroke="#d8d8d8" stroke-width="0.8"/>
<line x1="332.1" y1="372.40" x2="491.4" y2="372.40" stroke="#d8d8d8" stroke-width="0.8"/>
<line x1="366.92" y1="216.2" x2="366.92" y2="378.6" stroke="#d8d8d8" stroke-width="0.8"/>
<line x1="332.1" y1="341.16" x2="491.4" y2="341.16" stroke="#d8d8d8" stroke-width="0.8"/>
<line x1="398.04" y1="216.2" x2="398.04" y2="378.6" stroke="#d8d8d8" stroke-width="0.8"/>
<line x1="332.1" y1="309.92" x2="491.4" y2="309.92" stroke="#d8d8d8" stroke-width="0.8"/>
<line x1="429.16" y1="216.2" x2="429.16" y2="378.6" stroke="#d8d8d8" stroke-width="0.8"/>
<line x1="332.1" y1="278.68" x2="491.4" y2="278.68" stroke="#d8d8d8" stroke-width="0.8"/>
<line x1="460.28" y1="216.2" x2="460.28" y2="378.6" stroke="#d8d8d8" stroke-width="0.8"/>
<line x1="332.1" y1="247.44" x2="491.4" y2="247.44" stroke="#d8d8d8" stroke-width="0.8"/>
<line x1="491.40" y1="216.2" x2="491.40" y2="378.6" stroke="#d8d8d8" stroke-width="0.8"/>
<line x1="332.1" y1="216.20" x2="491.4" y2="216.20" stroke="#d8d8d8" stroke-width="0.8"/>
<circle cx="338.91" cy="372.40" r="1.8" fill="#6bdb6b"/>
<circle cx="342.02" cy="372.40" r="1.8" fill="#37b8c6"/>
<circle cx="345.14" cy="372.40" r="1.8" fill="#6d6cd8"/>
<circle cx="348.25" cy="372.40" r="1.8" fill="#7e2d63"/>
<circle cx="338.91" cy="369.28" r="1.8" fill="#cfd367"/>
<circle cx="342.02" cy="369.28" r="1.8" fill="#6bdb6b"/>
<circle cx="345.14" cy="369.28" r="1.8" fill="#37b8c6"/>
<circle cx="348.25" cy="369.28" r="1.8" fill="#6d6cd8"/>
<circle cx="351.36" cy="369.28" r="1.8" fill="#43a3dd"/>
<circle cx="354.47" cy="369.28" r="1.8" fill="#7e2d63"/>
<circle cx="357.58" cy="369.28" r="1.8" fill="#7e2d63"/>
<circle cx="360.70" cy="369.28" r="1.8" fill="#7e2d63"/>
<circle cx="401.15" cy="369.28" r="1.8" fill="#7e2d63"/>
<circle cx="338.91" cy="366.15" r="1.8" fill="#6bdb6b"/>
<circle cx="342.02" cy="366.15" r="1.8" fill="#6bdb6b"/>
<circle cx="345.14" cy="366.15" r="1.8" fill="#37b8c6"/>
<circle cx="348.25" cy="366.15" r="1.8" fill="#37b8c6"/>
<circle cx="351.36" cy="366.15" r="1.8" fill="#6d6cd8"/>
<circle cx="354.47" cy="366.15" r="1.8" fill="#7e5cc7"/>
<circle cx="357.58" cy="366.15" r="1.8" fill="#7e2d63"/>
<circle cx="360.70" cy="366.15" r="1.8" fill="#8a4597"/>
<circle cx="363.81" cy="366.15" r="1.8" fill="#7e2d63"/>
<circle cx="338.91" cy="363.03" r="1.8" fill="#37b8c6"/>
<circle cx="342.02" cy="363.03" r="1.8" fill="#37b8c6"/>
<circle cx="345.14" cy="363.03" r="1.8" fill="#37b8c6"/>
<circle cx="348.25" cy="363.03" r="1.8" fill="#43a3dd"/>
<circle cx="351.36" cy="363.03" r="1.8" fill="#4d8de3"/>
<circle cx="354.47" cy="363.03" r="1.8" fill="#4d8de3"/>
<circle cx="357.58" cy="363.03" r="1.8" fill="#8a4597"/>
<circle cx="360.70" cy="363.03" r="1.8" fill="#8a4597"/>
<circle cx="366.92" cy="363.03" r="1.8" fill="#8a4597"/>
<circle cx="376.26" cy="363.03" r="1.8" fill="#7e2d63"/>
<circle cx="338.91" cy="359.90" r="1.8" fill="#6d6cd8"/>
<circle cx="342.02" cy="359.90" r="1.8" fill="#4d8de3"/>
<circle cx="345.14" cy="359.90" r="1.8" fill="#4d8de3"/>
<circle cx="348.25" cy="359.90" r="1.8" fill="#4d8de3"/>
<circle cx="351.36" cy="359.90" r="1.8" fill="#4d8de3"/>
<circle cx="354.47" cy="359.90" r="1.8" fill="#4d8de3"/>
<circle cx="357.58" cy="359.90" r="1.8" fill="#4d8de3"/>
<circle cx="360.70" cy="359.90" r="1.8" fill="#6d6cd8"/>
<circle cx="366.92" cy="359.90" r="1.8" fill="#8a4597"/>
<circle cx="370.03" cy="359.90" r="1.8" fill="#7e2d63"/>
<circle cx="373.14" cy="359.90" r="1.8" fill="#7e2d63"/>
<circle cx="338.91" cy="356.78" r="1.8" fill="#7e5cc7"/>
<circle cx="342.02" cy="356.78" r="1.8" fill="#7e5cc7"/>
<circle cx="345.14" cy="356.78" r="1.8" fill="#6d6cd8"/>
<circle cx="348.25" cy="356.78" r="1.8" fill="#4d8de3"/>
<circle cx="351.36" cy="356.78" r="1.8" fill="#4d8de3"/>
<circle cx="354.47" cy="356.78" r="1.8" fill="#4d8de3"/>
<circle cx="357.58" cy="356.78" r="1.8" fill="#4d8de3"/>
<circle cx="360.70" cy="356.78" r="1.8" fill="#6d6cd8"/>
<circle cx="366.92" cy="356.78" r="1.8" fill="#6d6cd8"/>
<circle cx="370.03" cy="356.78" r="1.8" fill="#8a4597"/>
<circle cx="401.15" cy="356.78" r="1.8" fill="#8a4597"/>
<circle cx="338.91" cy="353.66" r="1.8" fill="#8a4597"/>
<circle cx="345.14" cy="353.66" r="1.8" fill="#7e2d63"/>
<circle cx="348.25" cy="353.66" r="1.8" fill="#4d8de3"/>
<circle cx="351.36" cy="353.66" r="1.8" fill="#7e5cc7"/>
<circle cx="354.47" cy="353.66" r="1.8" fill="#7e5cc7"/>
<circle cx="357.58" cy="353.66" r="1.8" fill="#7e2d63"/>
<circle cx="360.70" cy="353.66" r="1.8" fill="#6d6cd8"/>
<circle cx="363.81" cy="353.66" r="1.8" fill="#8a4597"/>
<circle cx="366.92" cy="353.66" r="1.8" fill="#8a4597"/>
<circle cx="370.03" cy="353.66" r="1.8" fill="#8a4597"/>
<circle cx="394.93" cy="353.66" r="1.8" fill="#7e2d63"/>
<circle cx="345.14" cy="350.53" r="1.8" fill="#7e2d63"/>
<circle cx="348.25" cy="350.53" r="1.8" fill="#7e2d63"/>
<circle cx="354.47" cy="350.53" r="1.8" fill="#8a4597"/>
<circle cx="357.58" cy="350.53" r="1.8" fill="#6d6cd8"/>
<circle cx="360.70" cy="350.53" r="1.8" fill="#8a4597"/>
<circle cx="363.81" cy="350.53" r="1.8" fill="#8a4597"/>
<circle cx="366.92" cy="350.53" r="1.8" fill="#6d6cd8"/>
<circle cx="370.03" cy="350.53" r="1.8" fill="#8a4597"/>
<circle cx="373.14" cy="350.53" r="1.8" fill="#7e2d63"/>
<circle cx="376.26" cy="350.53" r="1.8" fill="#7e2d63"/>
<circle cx="401.15" cy="350.53" r="1.8" fill="#8a4597"/>
<circle cx="357.58" cy="347.41" r="1.8" fill="#6d6cd8"/>
<circle cx="360.70" cy="347.41" r="1.8" fill="#6d6cd8"/>
<circle cx="363.81" cy="347.41" r="1.8" fill="#7e2d63"/>
<circle cx="366.92" cy="347.41" r="1.8" fill="#7e5cc7"/>
<circle cx="370.03" cy="347.41" r="1.8" fill="#8a4597"/>
<circle cx="373.14" cy="347.41" r="1.8" fill="#8a4597"/>
<circle cx="376.26" cy="347.41" r="1.8" fill="#7e2d63"/>
<circle cx="382.48" cy="347.41" r="1.8" fill="#7e2d63"/>
<circle cx="401.15" cy="347.41" r="1.8" fill="#7e2d63"/>
<circle cx="357.58" cy="344.28" r="1.8" fill="#8a4597"/>
<circle cx="363.81" cy="344.28" r="1.8" fill="#7e2d63"/>
<circle cx="366.92" cy="344.28" r="1.8" fill="#7e5cc7"/>
<circle cx="370.03" cy="344.28" r="1.8" fill="#8a4597"/>
<circle cx="373.14" cy="344.28" r="1.8" fill="#7e5cc7"/>
<circle cx="376.26" cy="344.28" r="1.8" fill="#8a4597"/>
<circle cx="385.59" cy="344.28" r="1.8" fill="#7e2d63"/>
<circle cx="391.82" cy="344.28" r="1.8" fill="#7e2d63"/>
<circle cx="401.15" cy="344.28" r="1.8" fill="#6d6cd8"/>
<circle cx="360.70" cy="341.16" r="1.8" fill="#7e5cc7"/>
<circle cx="363.81" cy="341.16" r="1.8" fill="#7e2d63"/>
<circle cx="366.92" cy="341.16" r="1.8" fill="#7e2d63"/>
<circle cx="370.03" cy="341.16" r="1.8" fill="#7e5cc7"/>
<circle cx="373.14" cy="341.16" r="1.8" fill="#7e5cc7"/>
<circle cx="376.26" cy="341.16" r="1.8" fill="#7e2d63"/>
<circle cx="379.37" cy="341.16" r="1.8" fill="#7e2d63"/>
<circle cx="401.15" cy="341.16" r="1.8" fill="#6d6cd8"/>
<circle cx="357.58" cy="338.04" r="1.8" fill="#7e2d63"/>
<circle cx="363.81" cy="338.04" r="1.8" fill="#7e2d63"/>
<circle cx="366.92" cy="338.04" r="1.8" fill="#7e5cc7"/>
<circle cx="376.26" cy="338.04" r="1.8" fill="#7e2d63"/>
<circle cx="388.70" cy="338.04" r="1.8" fill="#7e2d63"/>
<circle cx="401.15" cy="338.04" r="1.8" fill="#8a4597"/>
<circle cx="366.92" cy="334.91" r="1.8" fill="#7e2d63"/>
<circle cx="373.14" cy="334.91" r="1.8" fill="#7e5cc7"/>
<circle cx="376.26" cy="334.91" r="1.8" fill="#7e5cc7"/>
<circle cx="379.37" cy="334.91" r="1.8" fill="#7e2d63"/>
<circle cx="388.70" cy="334.91" r="1.8" fill="#7e5cc7"/>
<circle cx="394.93" cy="334.91" r="1.8" fill="#7e2d63"/>
<circle cx="401.15" cy="334.91" r="1.8" fill="#7e2d63"/>
<circle cx="407.38" cy="334.91" r="1.8" fill="#7e2d63"/>
<circle cx="394.93" cy="331.79" r="1.8" fill="#7e2d63"/>
<circle cx="398.04" cy="331.79" r="1.8" fill="#7e5cc7"/>
<circle cx="410.49" cy="331.79" r="1.8" fill="#7e2d63"/>
<circle cx="370.03" cy="328.66" r="1.8" fill="#7e2d63"/>
<circle cx="382.48" cy="328.66" r="1.8" fill="#8a4597"/>
<circle cx="385.59" cy="328.66" r="1.8" fill="#7e2d63"/>
<circle cx="391.82" cy="325.54" r="1.8" fill="#8a4597"/>
<circle cx="398.04" cy="325.54" r="1.8" fill="#7e2d63"/>
<circle cx="404.26" cy="325.54" r="1.8" fill="#7e2d63"/>
<circle cx="391.82" cy="322.42" r="1.8" fill="#7e2d63"/>
<circle cx="404.26" cy="322.42" r="1.8" fill="#7e2d63"/>
<circle cx="391.82" cy="319.29" r="1.8" fill="#8a4597"/>
<circle cx="401.15" cy="319.29" r="1.8" fill="#7e2d63"/>
<circle cx="404.26" cy="319.29" r="1.8" fill="#7e2d63"/>
<circle cx="444.72" cy="313.04" r="1.8" fill="#7e2d63"/>
<circle cx="413.60" cy="300.55" r="1.8" fill="#7e2d63"/>
<circle cx="444.72" cy="300.55" r="1.8" fill="#7e2d63"/>
<circle cx="447.83" cy="300.55" r="1.8" fill="#7e2d63"/>
<circle cx="426.05" cy="297.42" r="1.8" fill="#7e5cc7"/>
<circle cx="429.16" cy="294.30" r="1.8" fill="#7e2d63"/>
<circle cx="438.50" cy="294.30" r="1.8" fill="#7e2d63"/>
<circle cx="432.27" cy="291.18" r="1.8" fill="#7e2d63"/>
<circle cx="444.72" cy="291.18" r="1.8" fill="#8a4597"/>
<circle cx="426.05" cy="288.05" r="1.8" fill="#7e2d63"/>
<circle cx="429.16" cy="288.05" r="1.8" fill="#7e2d63"/>
<circle cx="432.27" cy="288.05" r="1.8" fill="#7e2d63"/>
<circle cx="447.83" cy="288.05" r="1.8" fill="#7e2d63"/>
<circle cx="460.28" cy="284.93" r="1.8" fill="#7e2d63"/>
<circle cx="429.16" cy="281.80" r="1.8" fill="#7e2d63"/>
<circle cx="432.27" cy="281.80" r="1.8" fill="#7e2d63"/>
<circle cx="441.61" cy="281.80" r="1.8" fill="#7e2d63"/>
<circle cx="444.72" cy="281.80" r="1.8" fill="#8a4597"/>
<circle cx="450.94" cy="281.80" r="1.8" fill="#7e2d63"/>
<circle cx="444.72" cy="275.56" r="1.8" fill="#8a4597"/>
<circle cx="444.72" cy="272.43" r="1.8" fill="#8a4597"/>
<circle cx="447.83" cy="266.18" r="1.8" fill="#7e2d63"/>
<circle cx="447.83" cy="263.06" r="1.8" fill="#7e2d63"/>
<circle cx="460.28" cy="259.94" r="1.8" fill="#7e2d63"/>
<circle cx="463.39" cy="253.69" r="1.8" fill="#7e2d63"/>
<circle cx="466.50" cy="247.44" r="1.8" fill="#7e2d63"/>
<rect x="332.1" y="216.2" width="159.3" height="162.4" fill="none" stroke="#3c3c3c" stroke-width="0.9"/>
<line x1="335.80" y1="378.6" x2="335.80" y2="380.6" stroke="#333" stroke-width="0.7"/>
<text x="335.80" y="389.8" font-size="7.3" fill="#333" text-anchor="middle">0</text>
<line x1="330.1" y1="372.40" x2="332.1" y2="372.40" stroke="#333" stroke-width="0.7"/>
<text x="326.2" y="375.10" font-size="7.4" fill="#333" text-anchor="end">0</text>
<line x1="366.92" y1="378.6" x2="366.92" y2="380.6" stroke="#333" stroke-width="0.7"/>
<text x="366.92" y="389.8" font-size="7.3" fill="#333" text-anchor="middle">10</text>
<line x1="330.1" y1="341.16" x2="332.1" y2="341.16" stroke="#333" stroke-width="0.7"/>
<text x="326.2" y="343.86" font-size="7.4" fill="#333" text-anchor="end">10</text>
<line x1="398.04" y1="378.6" x2="398.04" y2="380.6" stroke="#333" stroke-width="0.7"/>
<text x="398.04" y="389.8" font-size="7.3" fill="#333" text-anchor="middle">20</text>
<line x1="330.1" y1="309.92" x2="332.1" y2="309.92" stroke="#333" stroke-width="0.7"/>
<text x="326.2" y="312.62" font-size="7.4" fill="#333" text-anchor="end">20</text>
<line x1="429.16" y1="378.6" x2="429.16" y2="380.6" stroke="#333" stroke-width="0.7"/>
<text x="429.16" y="389.8" font-size="7.3" fill="#333" text-anchor="middle">30</text>
<line x1="330.1" y1="278.68" x2="332.1" y2="278.68" stroke="#333" stroke-width="0.7"/>
<text x="326.2" y="281.38" font-size="7.4" fill="#333" text-anchor="end">30</text>
<line x1="460.28" y1="378.6" x2="460.28" y2="380.6" stroke="#333" stroke-width="0.7"/>
<text x="460.28" y="389.8" font-size="7.3" fill="#333" text-anchor="middle">40</text>
<line x1="330.1" y1="247.44" x2="332.1" y2="247.44" stroke="#333" stroke-width="0.7"/>
<text x="326.2" y="250.14" font-size="7.4" fill="#333" text-anchor="end">40</text>
<line x1="491.40" y1="378.6" x2="491.40" y2="380.6" stroke="#333" stroke-width="0.7"/>
<text x="491.40" y="389.8" font-size="7.3" fill="#333" text-anchor="middle">50</text>
<line x1="330.1" y1="216.20" x2="332.1" y2="216.20" stroke="#333" stroke-width="0.7"/>
<text x="326.2" y="218.90" font-size="7.4" fill="#333" text-anchor="end">50</text>
<text x="411.8" y="398.4" font-size="7.0" fill="#333" text-anchor="middle">True Degree</text>
<text transform="translate(312.5,297.1) rotate(-90)" font-size="6.85" fill="#333" text-anchor="middle">SqueezeProt-SP (Strict) Degree</text>
<text x="340.6" y="229.3" font-size="7" fill="#333">PCC = 0.929</text>
<rect x="511" y="110.2" width="11" height="162.3" fill="url(#cmap)" stroke="#777" stroke-width="0.3"/>
<line x1="522" y1="272.50" x2="524.5" y2="272.50" stroke="#333" stroke-width="0.7"/>
<text x="526.8" y="275.50" font-size="8.3" fill="#333">1</text>
<line x1="522" y1="252.16" x2="524.5" y2="252.16" stroke="#333" stroke-width="0.7"/>
<text x="526.8" y="255.16" font-size="8.3" fill="#333">2</text>
<line x1="522" y1="225.28" x2="524.5" y2="225.28" stroke="#333" stroke-width="0.7"/>
<text x="526.8" y="228.28" font-size="8.3" fill="#333">5</text>
<line x1="522" y1="204.94" x2="524.5" y2="204.94" stroke="#333" stroke-width="0.7"/>
<text x="526.8" y="207.94" font-size="8.3" fill="#333">10</text>
<line x1="522" y1="178.06" x2="524.5" y2="178.06" stroke="#333" stroke-width="0.7"/>
<text x="526.8" y="181.06" font-size="8.3" fill="#333">25</text>
<line x1="522" y1="157.72" x2="524.5" y2="157.72" stroke="#333" stroke-width="0.7"/>
<text x="526.8" y="160.72" font-size="8.3" fill="#333">50</text>
<line x1="522" y1="137.38" x2="524.5" y2="137.38" stroke="#333" stroke-width="0.7"/>
<text x="526.8" y="140.38" font-size="8.3" fill="#333">100</text>
<line x1="522" y1="110.50" x2="524.5" y2="110.50" stroke="#333" stroke-width="0.7"/>
<text x="526.8" y="113.50" font-size="8.3" fill="#333">250</text>
<line x1="522" y1="240.27" x2="523.6" y2="240.27" stroke="#333" stroke-width="0.5"/>
<line x1="522" y1="231.82" x2="523.6" y2="231.82" stroke="#333" stroke-width="0.5"/>
<line x1="522" y1="219.93" x2="523.6" y2="219.93" stroke="#333" stroke-width="0.5"/>
<line x1="522" y1="215.41" x2="523.6" y2="215.41" stroke="#333" stroke-width="0.5"/>
<line x1="522" y1="211.49" x2="523.6" y2="211.49" stroke="#333" stroke-width="0.5"/>
<line x1="522" y1="208.03" x2="523.6" y2="208.03" stroke="#333" stroke-width="0.5"/>
<line x1="522" y1="184.60" x2="523.6" y2="184.60" stroke="#333" stroke-width="0.5"/>
<line x1="522" y1="172.71" x2="523.6" y2="172.71" stroke="#333" stroke-width="0.5"/>
<line x1="522" y1="164.26" x2="523.6" y2="164.26" stroke="#333" stroke-width="0.5"/>
<line x1="522" y1="152.37" x2="523.6" y2="152.37" stroke="#333" stroke-width="0.5"/>
<line x1="522" y1="147.85" x2="523.6" y2="147.85" stroke="#333" stroke-width="0.5"/>
<line x1="522" y1="143.93" x2="523.6" y2="143.93" stroke="#333" stroke-width="0.5"/>
<line x1="522" y1="140.47" x2="523.6" y2="140.47" stroke="#333" stroke-width="0.5"/>
<line x1="522" y1="117.04" x2="523.6" y2="117.04" stroke="#333" stroke-width="0.5"/>
<text transform="translate(547,189.5) rotate(-90)" font-size="8.2" fill="#333" text-anchor="middle">Density</text>
<text x="108.3" y="18.7" font-size="16.5" fill="#000" stroke="#000" stroke-width="0.35">a</text>
<text x="98.5" y="283.6" font-size="16.5" fill="#000" stroke="#000" stroke-width="0.35">b</text>
<text x="301.8" y="17.0" font-size="15.2" fill="#000" stroke="#000" stroke-width="0.35">c</text>
<text x="303.3" y="221.6" font-size="16" fill="#000" stroke="#000" stroke-width="0.35">d</text>
<rect x="107.8" y="14.2" width="188.3" height="250.6" fill="none" stroke="#d81b60" stroke-width="1.9"/>
<rect x="107.3" y="277.8" width="189.9" height="126.6" fill="none" stroke="#d81b60" stroke-width="1.9"/>
<rect x="306.6" y="12.3" width="244.9" height="391.4" fill="none" stroke="#d81b60" stroke-width="1.9"/>
<rect x="41.3" y="19.0" width="65.7" height="10.2" fill="#d81b60"/>
<g transform="translate(0,27.50) scale(1,1.000)"><text x="46.42 52.06 57.70 63.34 68.98 74.62 80.26 85.90 91.54 97.18 102.82" y="0" style="font-family:&quot;Liberation Mono&quot;,monospace" font-size="9.4" fill="#fff" text-anchor="middle" stroke="#fff" stroke-width="0.15">concordance</text></g>
<circle cx="41.8" cy="20.2" r="2.3" fill="#ffc107" stroke="#e08a00" stroke-width="0.4"/>
<rect x="1.5" y="279.2" width="105.5" height="9.4" fill="#d81b60"/>
<g transform="translate(0,286.90) scale(1,1.000)"><text x="6.62 12.26 17.90 23.54 29.18 34.82 40.46 46.10 51.74 57.38 63.02 68.66 74.30 79.94 85.58 91.22 96.86 102.50" y="0" style="font-family:&quot;Liberation Mono&quot;,monospace" font-size="9.4" fill="#fff" text-anchor="middle" stroke="#fff" stroke-width="0.15">degree_correlation</text></g>
<circle cx="2.7" cy="279.2" r="2.3" fill="#ffc107" stroke="#e08a00" stroke-width="0.4"/>
<rect x="551.3" y="31.3" width="105.1" height="9.1" fill="#d81b60"/>
<g transform="translate(0,38.70) scale(1,1.000)"><text x="556.42 562.06 567.70 573.34 578.98 584.62 590.26 595.90 601.54 607.18 612.82 618.46 624.10 629.74 635.38 641.02 646.66 652.30" y="0" style="font-family:&quot;Liberation Mono&quot;,monospace" font-size="9.4" fill="#fff" text-anchor="middle" stroke="#fff" stroke-width="0.15">degree_correlation</text></g>
<circle cx="657.3" cy="31.3" r="2.3" fill="#ffc107" stroke="#e08a00" stroke-width="0.4"/>
</svg></body></html>
